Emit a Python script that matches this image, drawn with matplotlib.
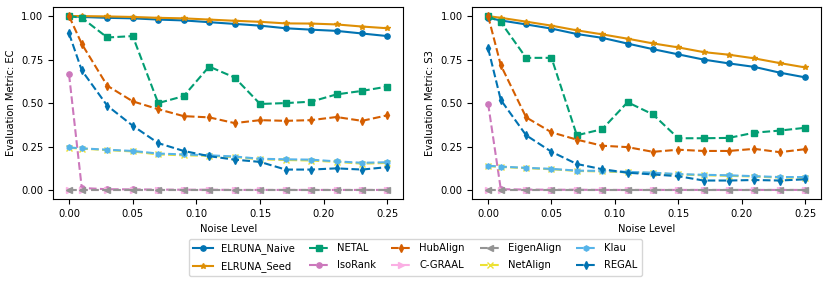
import matplotlib
matplotlib.use("Agg")
import matplotlib.pyplot as plt

noise = [0, 0.01, 0.03, 0.05, 0.07, 0.09, 0.11, 0.13, 0.15, 0.17, 0.19, 0.21, 0.23, 0.25]

methods = ["ELRUNA_Naive", "ELRUNA_Seed", "NETAL", "IsoRank", "HubAlign",
           "C-GRAAL", "EigenAlign", "NetAlign", "Klau", "REGAL"]

ec_naive = [1.0, 0.995, 0.99, 0.987, 0.98, 0.975, 0.965, 0.955, 0.945, 0.93, 0.922, 0.915, 0.9, 0.885]
ec_seed = [1.0, 1.0, 0.998, 0.995, 0.99, 0.987, 0.98, 0.973, 0.967, 0.958, 0.957, 0.952, 0.94, 0.93]
ec_netal = [1.0, 0.99, 0.877, 0.885, 0.5, 0.54, 0.71, 0.647, 0.495, 0.5, 0.508, 0.55, 0.57, 0.595]
ec_isorank = [0.665, 0.012, 0.005, 0.004, 0.003, 0.002, 0.002, 0.001, 0.001, 0.001, 0.001, 0.001, 0.001, 0.001]
ec_hubalign = [1.0, 0.84, 0.6, 0.51, 0.465, 0.425, 0.418, 0.385, 0.402, 0.398, 0.402, 0.42, 0.398, 0.43]
ec_cgraal = [0.001, 0.001, 0.001, 0.001, 0.001, 0.001, 0.001, 0.001, 0.001, 0.001, 0.001, 0.001, 0.001, 0.001]
ec_eigen = [0.0, 0.0, 0.0, 0.0, 0.0, 0.0, 0.0, 0.0, 0.0, 0.0, 0.0, 0.0, 0.0, 0.0]
ec_netalign = [0.243, 0.238, 0.23, 0.222, 0.205, 0.2, 0.197, 0.19, 0.177, 0.173, 0.17, 0.162, 0.152, 0.156]
ec_klau = [0.245, 0.24, 0.232, 0.225, 0.21, 0.205, 0.2, 0.193, 0.18, 0.177, 0.175, 0.165, 0.157, 0.16]
ec_regal = [0.9, 0.688, 0.485, 0.37, 0.27, 0.225, 0.195, 0.175, 0.162, 0.118, 0.118, 0.125, 0.118, 0.132]

s3_naive = [0.99, 0.975, 0.952, 0.928, 0.897, 0.875, 0.842, 0.81, 0.78, 0.75, 0.728, 0.708, 0.675, 0.648]
s3_seed = [1.0, 0.99, 0.968, 0.945, 0.918, 0.895, 0.87, 0.843, 0.82, 0.793, 0.778, 0.757, 0.73, 0.705]
s3_netal = [1.0, 0.965, 0.76, 0.76, 0.315, 0.35, 0.505, 0.435, 0.298, 0.298, 0.3, 0.33, 0.342, 0.358]
s3_isorank = [0.497, 0.005, 0.003, 0.002, 0.002, 0.001, 0.001, 0.001, 0.001, 0.001, 0.001, 0.001, 0.001, 0.001]
s3_hubalign = [1.0, 0.718, 0.418, 0.332, 0.29, 0.255, 0.247, 0.22, 0.232, 0.225, 0.225, 0.237, 0.218, 0.235]
s3_cgraal = [0.001, 0.001, 0.001, 0.001, 0.001, 0.001, 0.001, 0.001, 0.001, 0.001, 0.001, 0.001, 0.001, 0.001]
s3_eigen = [0.0, 0.0, 0.0, 0.0, 0.0, 0.0, 0.0, 0.0, 0.0, 0.0, 0.0, 0.0, 0.0, 0.0]
s3_netalign = [0.138, 0.133, 0.126, 0.12, 0.11, 0.107, 0.102, 0.098, 0.09, 0.085, 0.082, 0.078, 0.072, 0.072]
s3_klau = [0.14, 0.135, 0.128, 0.122, 0.112, 0.11, 0.105, 0.1, 0.092, 0.088, 0.085, 0.08, 0.075, 0.075]
s3_regal = [0.815, 0.518, 0.315, 0.22, 0.15, 0.12, 0.1, 0.09, 0.08, 0.055, 0.055, 0.058, 0.055, 0.062]

ec_data = [ec_naive, ec_seed, ec_netal, ec_isorank, ec_hubalign, ec_cgraal, ec_eigen, ec_netalign, ec_klau, ec_regal]
s3_data = [s3_naive, s3_seed, s3_netal, s3_isorank, s3_hubalign, s3_cgraal, s3_eigen, s3_netalign, s3_klau, s3_regal]

colors = ["#0173b2", "#de8f05", "#029e73", "#cc78bc", "#d55e00",
          "#fbafe4", "#949494", "#ece133", "#56b4e9", "#0173b2"]
markers = ["o", "*", "s", "o", "d", ">", "<", "x", "h", "d"]
styles = ["-", "-", "--", "--", "--", "--", "--", "--", "--", "--"]

FS = 7.2
fig = plt.figure(figsize=(8.3, 2.84), dpi=100)
ax1 = fig.add_axes([0.064, 0.30, 0.422, 0.674])
ax2 = fig.add_axes([0.569, 0.30, 0.420, 0.674])

handles = []
for ax, data, ylabel in [(ax1, ec_data, "Evaluation Metric: EC"), (ax2, s3_data, "Evaluation Metric: S3")]:
    handles = []
    for i in range(len(methods)):
        h, = ax.plot(noise, data[i], linestyle=styles[i], marker=markers[i], color=colors[i],
                     markersize=3.8, linewidth=1.5, label=methods[i])
        handles.append(h)
    ax.set_xlabel("Noise Level", fontsize=FS)
    ax.set_ylabel(ylabel, fontsize=FS)
    ax.tick_params(labelsize=FS)
    ax.set_xticks([0, 0.05, 0.10, 0.15, 0.20, 0.25])
    ax.set_xticklabels(["0.00", "0.05", "0.10", "0.15", "0.20", "0.25"])
    ax.set_yticks([0, 0.25, 0.5, 0.75, 1.0])
    ax.set_yticklabels(["0.00", "0.25", "0.50", "0.75", "1.00"])

fig.legend(handles, methods,
           loc="lower center", bbox_to_anchor=(0.5, 0.01), ncol=5, fontsize=FS,
           frameon=True, handlelength=2.0, columnspacing=1.5, labelspacing=0.7)

fig.savefig("out.png", dpi=100)
